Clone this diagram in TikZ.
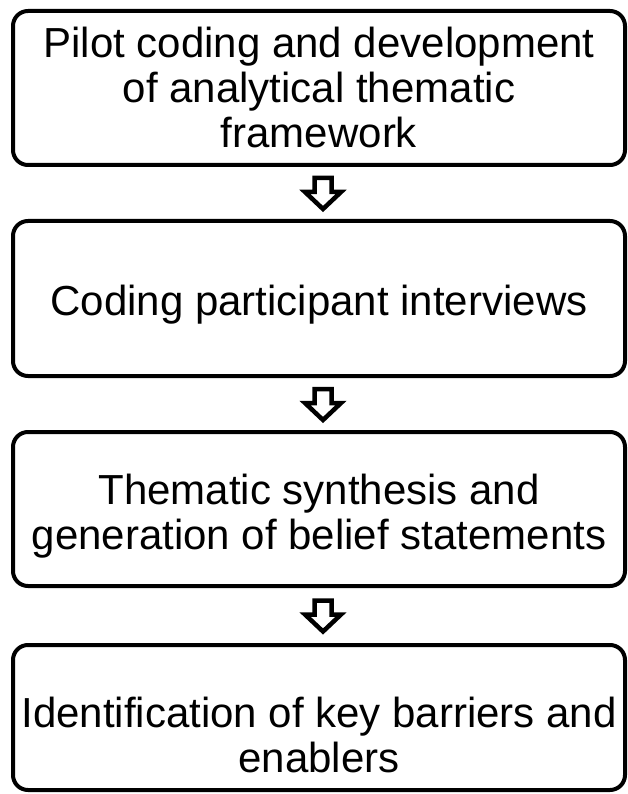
\documentclass[tikz,border=0pt]{standalone}
\usepackage{fontspec}
\setmainfont{Liberation Sans}
\usetikzlibrary{calc}

\begin{document}
\begin{tikzpicture}[x=1pt,y=-1pt,
  stage/.style={draw=black,line width=4pt,rounded corners=15pt,minimum width=612pt,inner sep=0pt},
  stagetext/.style={align=center,inner sep=0pt,font=\fontsize{42}{45}\selectfont},
  blockarrow/.style={draw=black,line width=4.5pt,fill=white,line join=miter}]
\useasboundingbox (0,0) rectangle (628,794);
\node[stage,minimum height=154pt] (b1) at (319,88) {};
\node[stage,minimum height=155pt] (b2) at (319,298.5) {};
\node[stage,minimum height=154pt] (b3) at (319,509) {};
\node[stage,minimum height=145pt] (b4) at (319,717.5) {};

\node[stagetext] (t1) at (319,87) {Pilot coding and development\\of analytical thematic\\framework};
\node[stagetext] (t2) at (319,305) {Coding participant interviews};
\node[stagetext] (t3) at (319,516) {Thematic synthesis and\\generation of belief statements};
\node[stagetext] (t4) at (319,735) {Identification of key barriers and\\enablers};

\foreach \a/\b in {b1/b2,b2/b3,b3/b4}
  \draw[blockarrow,shift={($(\a.south)!0.5!(\b.north)+(4,0)$)}] (-8.5,-15) -- (8.5,-15) -- (8.5,-1) -- (18,-1) -- (0,16) -- (-18,-1) -- (-8.5,-1) -- cycle;

\end{tikzpicture}
\end{document}
